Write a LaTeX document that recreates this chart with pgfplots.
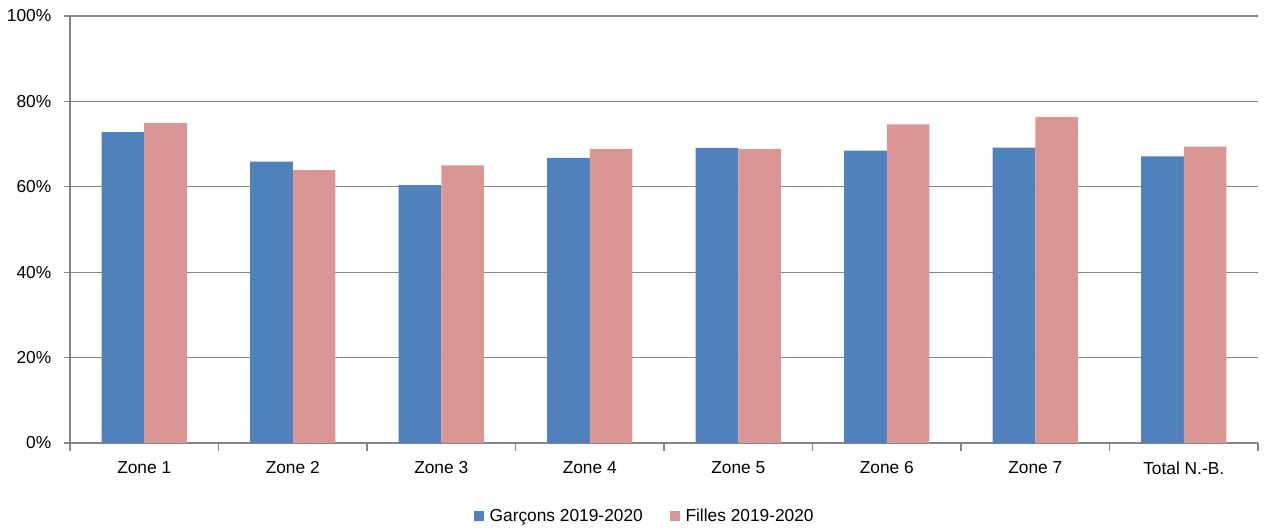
\documentclass[border=0pt]{standalone}
\usepackage{fontspec}
\setmainfont{Liberation Sans}
\usepackage{pgfplots}
\pgfplotsset{compat=1.18}
\definecolor{garcons}{RGB}{79,129,189}
\definecolor{filles}{RGB}{217,150,148}
\definecolor{gridgray}{RGB}{134,134,134}

\begin{document}
\begin{tikzpicture}[font=\fontsize{13}{15}\selectfont]
\begin{axis}[
    name=ax,
    scale only axis,
    width=891pt, height=320.25pt,
    ybar=0pt, bar width=31.9pt,
    xmin=-0.5, xmax=7.5, ymin=0, ymax=100,
    axis x line*=bottom, axis y line*=left,
    axis line style={gridgray, line width=1pt, -},
    xtick={0,...,7},
    xticklabels={Zone 1,Zone 2,Zone 3,Zone 4,Zone 5,Zone 6,Zone 7,Total N.-B.},
    minor xtick={-0.5,0.5,...,7.5},
    major x tick style={draw=none},
    minor tick length=6pt,
    tick align=outside,
    ytick={0,20,...,100},
    yticklabels={0\%,20\%,40\%,60\%,80\%,100\%},
    major tick length=4.5pt,
    tick style={gridgray, line width=1pt},
    ymajorgrids,
    grid style={gridgray, line width=1pt},
    ticklabel style={font=\fontsize{13}{15}\selectfont},
    xticklabel style={yshift=-6pt},
    yticklabel style={xshift=-6pt},
    legend style={at={(0.484,-0.171)}, anchor=center, draw=none,
        font=\fontsize{13}{15}\selectfont, legend columns=2,
        /tikz/every odd column/.append style={column sep=2pt},
        /tikz/every even column/.append style={column sep=18pt}},
    legend image code/.code={\fill[#1] (0pt,-4pt) rectangle (8pt,4pt);},
]
\addplot[fill=garcons, draw=none] coordinates {
    (0,72.8) (1,65.9) (2,60.4) (3,66.8) (4,69.1) (5,68.5) (6,69.2) (7,67.1)
};
\addplot[fill=filles, draw=none] coordinates {
    (0,74.9) (1,63.9) (2,65.0) (3,68.9) (4,68.8) (5,74.6) (6,76.4) (7,69.4)
};
\legend{Garçons 2019-2020, Filles 2019-2020}
\end{axis}
\path[use as bounding box] ([xshift=-52.5pt, yshift=-64.5pt]ax.south west)
    rectangle ([xshift=5.25pt, yshift=12pt]ax.north east);
\end{tikzpicture}
\end{document}
